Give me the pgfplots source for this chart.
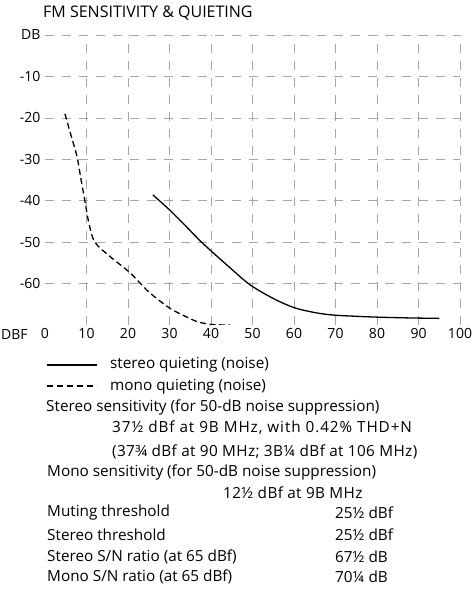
\documentclass[border=0pt]{standalone}
\usepackage{pgfplots}
\pgfplotsset{compat=1.18}
\usepackage{fontspec}
\setmainfont{Open Sans}
\begin{document}
\begin{tikzpicture}[x=1pt,y=1pt]
  \path[use as bounding box] (0,0) rectangle (472,589);
  \begin{axis}[
      at={(45pt,264pt)}, anchor=south west,
      scale only axis,
      width=415pt, height=290pt,
      xmin=0, xmax=100,
      ymin=-70, ymax=0,
      axis line style={draw=none},
      tick style={draw=none},
      xtick={10,20,...,100},
      ytick={-60,-50,...,0},
      yticklabels={-60,-50,-40,-30,-20,-10,DB},
      extra x ticks={0},
      extra x tick style={grid=none},
      grid=major,
      major grid style={gray!70, line width=0.5pt, dash pattern=on 9pt off 8pt},
      ticklabel style={font=\fontsize{14}{16}\selectfont},
      /pgf/number format/assume math mode=true,
      yticklabel style={xshift=-1pt},
    ]
    % stereo quieting
    \addplot[black, line width=1.3pt, smooth] coordinates {
      (26,-38.6) (30,-42.2) (34,-46.2) (37.3,-49.6) (41,-53) (44.6,-56.2)
      (49.4,-60.3) (55,-63.6) (60,-65.8) (65,-67) (69.4,-67.6)
      (75,-67.9) (80,-68.1) (88,-68.3) (95,-68.4)
    };
    % mono quieting
    \addplot[black, line width=1.3pt, dash pattern=on 6pt off 3.5pt, smooth] coordinates {
      (4.8,-19) (6.2,-24) (7.7,-29.3) (8.7,-35) (9.6,-40) (10.6,-45.5) (12,-50)
      (15.7,-53.5) (20.5,-57.4) (25,-62) (30,-65.9) (34,-68) (37,-69.3)
      (40.5,-69.9) (44.6,-70)
    };
  \end{axis}
  \begin{scope}[every node/.style={inner sep=0pt, anchor=west, font=\fontsize{15.3}{17}\selectfont}]
    \node[font=\fontsize{16}{18}\selectfont] at (43,576) {FM SENSITIVITY \& QUIETING};
    \node[font=\fontsize{14}{16}\selectfont] at (1,254) {DBF};
    \draw[black, line width=1.2pt] (47,224) -- (97,224);
    \draw[black, line width=1.2pt, dash pattern=on 6pt off 4pt] (47,203) -- (97,203);
    \node at (110,224) {stereo quieting (noise)};
    \node at (110,202) {mono quieting (noise)};
    \node at (46,182) {Stereo sensitivity (for 50-dB noise suppression)};
    \node at (112,161) {\addfontfeature{LetterSpace=6}37½ dBf at 9B MHz, with 0.42\% THD+N};
    \node at (112,137) {\addfontfeature{LetterSpace=2.5}(37¾ dBf at 90 MHz; 3B¼ dBf at 106 MHz)};
    \node at (47,117) {Mono sensitivity (for 50-dB noise suppression)};
    \node at (223,96) {\addfontfeature{LetterSpace=2.5}12½ dBf at 9B MHz};
    \node at (47,76) {Muting threshold};
    \node at (335,76) {25½ dBf};
    \node at (47,54) {Stereo threshold};
    \node at (335,54) {25½ dBf};
    \node at (47,32) {Stereo S/N ratio (at 65 dBf)};
    \node at (335,32) {67½ dB};
    \node at (47,12) {Mono S/N ratio (at 65 dBf)};
    \node at (335,12) {70¼ dB};
  \end{scope}
\end{tikzpicture}
\end{document}
